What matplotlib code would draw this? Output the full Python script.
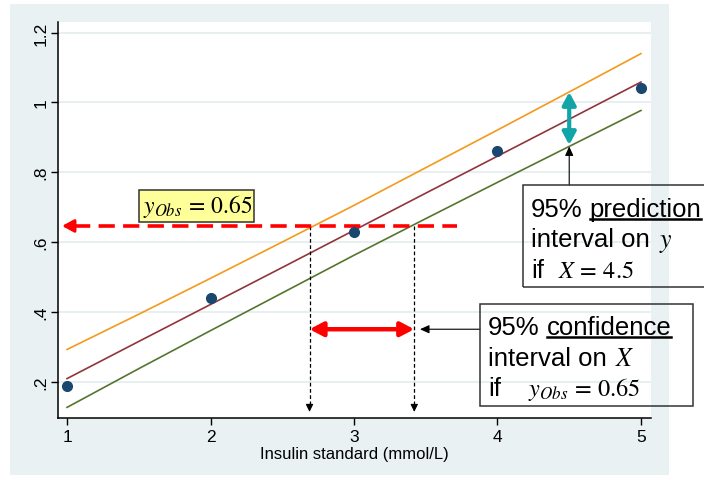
import matplotlib
matplotlib.use('Agg')
import matplotlib.pyplot as plt
from matplotlib.patches import Rectangle
from matplotlib.lines import Line2D

plt.rcParams['font.family'] = ['Liberation Sans', 'DejaVu Sans']
plt.rcParams['mathtext.fontset'] = 'stix'

# values
insulin = [1, 2, 3, 4, 5]
measured = [0.188, 0.44, 0.629, 0.86, 1.041]

band_x = [1, 1.5, 2, 2.5, 3, 3.5, 4, 4.5, 5]
fit_y = [0.2085, 0.315, 0.421, 0.527, 0.6335, 0.740, 0.846, 0.952, 1.0585]
upper_y = [0.292, 0.393, 0.496, 0.600, 0.705, 0.813, 0.921, 1.030, 1.140]
lower_y = [0.126, 0.237, 0.346, 0.454, 0.562, 0.667, 0.771, 0.874, 0.977]

y_obs = 0.646
x_lo, x_hi = 2.69, 3.42          # confidence interval on X
x_pred = 4.5
pred_lo, pred_hi = 0.878, 1.030  # prediction interval on y

yticks = [0.2, 0.4, 0.6, 0.8, 1.0, 1.2]
ytick_labels = ['.2', '.4', '.6', '.8', '1', '1.2']
xticks = [1, 2, 3, 4, 5]

W, H = 704, 481
fig = plt.figure(figsize=(W / 100, H / 100), dpi=100)
fig.patch.set_facecolor('white')


def fx(px):
    return px / W


def fy(py):
    return 1 - py / H


# light outer frame
fig.add_artist(Rectangle((fx(10), fy(476)), fx(669) - fx(10), fy(5) - fy(476),
                         transform=fig.transFigure, facecolor='#e9f1f3',
                         edgecolor='none', zorder=-5))

ax = fig.add_axes([fx(58), fy(418.5), fx(651) - fx(58), fy(22.5) - fy(418.5)])
ax.set_facecolor('white')
ax.set_xlim(0.937, 5.07)
ax.set_ylim(0.097, 1.232)
for s in ['top', 'right']:
    ax.spines[s].set_visible(False)
for s in ['left', 'bottom']:
    ax.spines[s].set_linewidth(1.1)
    ax.spines[s].set_color('black')

ax.set_yticks(yticks)
ax.set_yticklabels(ytick_labels)
ax.set_xticks(xticks)
ax.set_xticklabels([str(v) for v in xticks])
ax.tick_params(axis='y', labelrotation=90, length=5, width=1, labelsize=12.5, pad=2)
ax.tick_params(axis='x', length=5, width=1, labelsize=12.5, pad=3)
for lab in ax.get_yticklabels():
    lab.set_va('center')
ax.yaxis.grid(True, color='#e6eef0', lw=1.3)
ax.set_axisbelow(True)
ax.set_xlabel('Insulin standard (mmol/L)', fontsize=12, labelpad=1.5)

ax.plot(band_x, upper_y, color='#f39a1b', lw=1.2, zorder=3)
ax.plot(band_x, fit_y, color='#90353b', lw=1.2, zorder=3)
ax.plot(band_x, lower_y, color='#55752f', lw=1.2, zorder=3)

# observed y: dashed red line with arrow to the axis
ax.plot([1.05, 3.72], [y_obs, y_obs], color='#ff0000', lw=2.6,
        dashes=(4.5, 2.3), zorder=5)
ax.annotate('', xy=(0.965, y_obs), xytext=(1.06, y_obs),
            arrowprops=dict(arrowstyle='-|>,head_length=0.7,head_width=0.38',
                            color='#ff0000', lw=2.2, shrinkA=0, shrinkB=0), zorder=5)

ax.plot(insulin, measured, 'o', color='#1a476f', ms=7, zorder=6)

# dotted drops to the x axis
for xv in (x_lo, x_hi):
    ax.plot([xv, xv], [y_obs, 0.13], color='black', lw=0.9, dashes=(3, 2), zorder=4)
    ax.annotate('', xy=(xv, 0.113), xytext=(xv, 0.135),
                arrowprops=dict(arrowstyle='-|>,head_length=0.45,head_width=0.22',
                                color='black', lw=0.8, shrinkA=0, shrinkB=0))

# confidence interval arrow
ax.annotate('', xy=(x_lo, 0.35), xytext=(x_hi, 0.35),
            arrowprops=dict(arrowstyle='<|-|>,head_length=0.8,head_width=0.42',
                            color='#ff0000', lw=3.2, shrinkA=0, shrinkB=0), zorder=6)
ax.annotate('', xy=(x_hi + 0.04, 0.35), xytext=(3.878, 0.35),
            arrowprops=dict(arrowstyle='-|>,head_length=0.55,head_width=0.25',
                            color='black', lw=0.8, shrinkA=0, shrinkB=0),
            annotation_clip=False)

# prediction interval arrow
ax.annotate('', xy=(x_pred, pred_hi), xytext=(x_pred, pred_lo),
            arrowprops=dict(arrowstyle='<|-|>,head_length=0.75,head_width=0.4',
                            color='#12a4a6', lw=3.0, shrinkA=0, shrinkB=0), zorder=6)
ax.annotate('', xy=(x_pred, pred_lo - 0.004), xytext=(x_pred, 0.763),
            arrowprops=dict(arrowstyle='-|>,head_length=0.55,head_width=0.25',
                            color='black', lw=0.8, shrinkA=0, shrinkB=0),
            annotation_clip=False)

# boxes
def box(x0, y0, x1, y1, fc='none'):
    fig.add_artist(Rectangle((fx(x0), fy(y1)), fx(x1) - fx(x0), fy(y0) - fy(y1),
                             transform=fig.transFigure, facecolor=fc,
                             edgecolor='#333333', lw=1.1, zorder=8))


box(139.3, 190.7, 254.3, 222.7, fc='#ffff99')
box(522.7, 185.7, 720, 287.7)
box(480.3, 305.3, 693.3, 406.7)

fig.text(fx(143), fy(213.3), r'$y_{Obs}\,=\,0.65$', fontsize=17, va='baseline',
         ha='left', zorder=9)

renderer = fig.canvas.get_renderer()


def text_line(x0, base, pieces):
    x = x0
    for s, size, gap, under in pieces:
        t = fig.text(fx(x), fy(base), s, fontsize=size, va='baseline', ha='left',
                     zorder=9)
        bb = t.get_window_extent(renderer)
        if under:
            fig.add_artist(Line2D([fx(bb.x0), fx(bb.x1)], [fy(base + 3), fy(base + 3)],
                                  transform=fig.transFigure, color='black', lw=1.8,
                                  zorder=9))
        x = bb.x1 + gap


text_line(531, 216.7, [('95%', 18.5, 7, False), ('prediction', 18.5, 0, True)])
text_line(531, 246.7, [('interval on', 18.5, 9, False), (r'$y$', 18.5, 0, False)])
text_line(531, 277.7, [('if', 18.5, 14, False), (r'$X\,=\,4.5$', 17.5, 0, False)])

text_line(488, 335, [('95%', 18.5, 7, False), ('confidence', 18.5, 0, True)])
text_line(488, 365.7, [('interval on', 18.5, 8, False), (r'$X$', 18.5, 0, False)])
text_line(488, 396, [('if', 18.5, 27, False), (r'$y_{Obs}\,=\,0.65$', 17.5, 0, False)])

fig.savefig('out.png', dpi=100)
